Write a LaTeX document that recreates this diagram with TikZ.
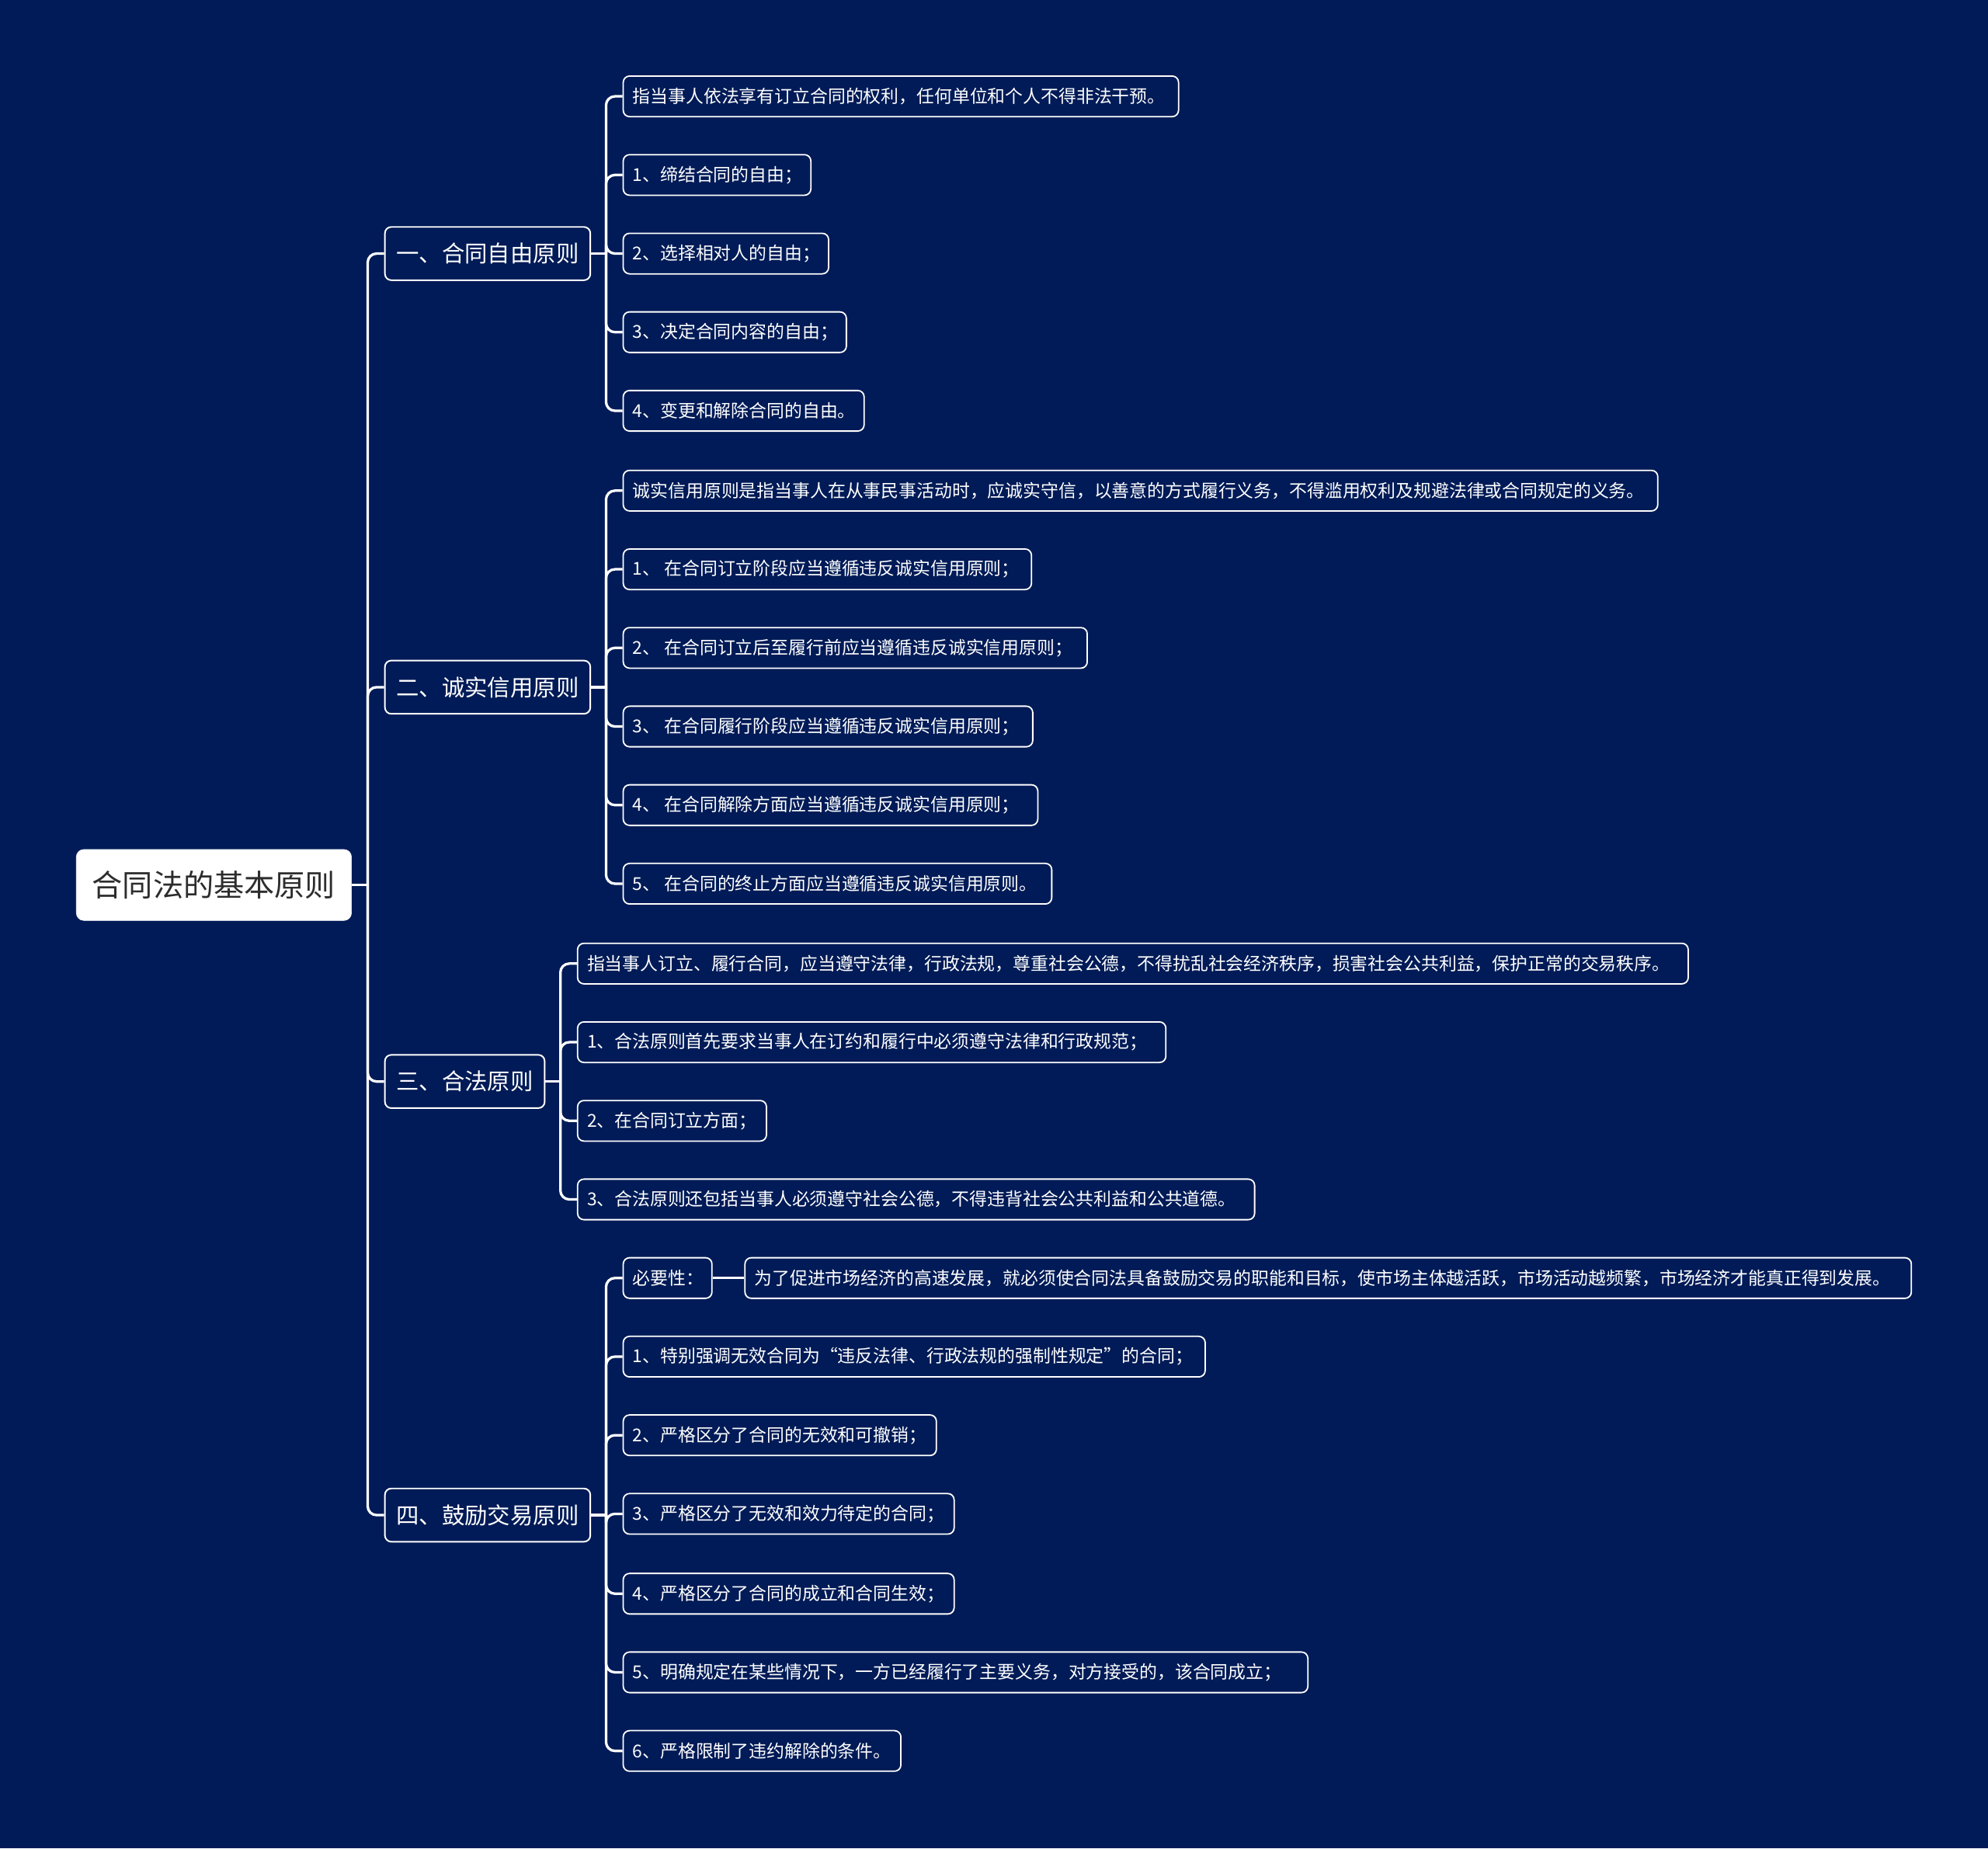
\documentclass[tikz,border=0pt]{standalone}
\usepackage{fontspec}
\setmainfont{Noto Sans CJK SC}
\definecolor{bg}{RGB}{0,27,87}
\definecolor{roottext}{RGB}{45,45,45}
\newcommand{\lbx}[2]{\makebox[\dimexpr #1pt-15pt\relax][l]{#2}}
\begin{document}
\begin{tikzpicture}[x=1pt,y=-1pt,
  rootbox/.style={draw=white, fill=white, rounded corners=6pt, text=roottext,
    font=\fontsize{24}{28}\selectfont, minimum height=56pt, minimum width=217pt, anchor=west, inner xsep=12pt},
  mainbox/.style={draw=white, line width=1.2pt, fill=bg, rounded corners=5pt, text=white,
    font=\fontsize{18}{22}\selectfont, minimum height=42pt, inner xsep=9pt, anchor=west},
  leaf/.style={draw=white, line width=1.1pt, fill=bg, rounded corners=5pt, text=white,
    font=\fontsize{14}{17}\selectfont, minimum height=32pt, inner xsep=7.5pt, anchor=west},
  conn/.style={draw=white, line width=2pt, rounded corners=7pt}]
\useasboundingbox (0,0) rectangle (1568,1458);
\fill[bg] (0,0) rectangle (1568,1458);

% root
\node[rootbox] (root) at (60,698) {合同法的基本原则};

% main nodes
\node[mainbox] (m1) at (303,200) {一、合同自由原则};
\node[mainbox] (m2) at (303,542) {二、诚实信用原则};
\node[mainbox] (m3) at (303,853) {三、合法原则};
\node[mainbox] (m4) at (303,1195) {四、鼓励交易原则};

% group 1
\node[leaf] (a0) at (491,76) {\lbx{438}{指当事人依法享有订立合同的权利，任何单位和个人不得非法干预。}};
\node[leaf] (a1) at (491,138) {\lbx{148}{1、缔结合同的自由；}};
\node[leaf] (a2) at (491,200) {\lbx{162}{2、选择相对人的自由；}};
\node[leaf] (a3) at (491,262) {\lbx{176}{3、决定合同内容的自由；}};
\node[leaf] (a4) at (491,324) {\lbx{190}{4、变更和解除合同的自由。}};

% group 2
\node[leaf] (b0) at (491,387) {\lbx{816}{诚实信用原则是指当事人在从事民事活动时，应诚实守信，以善意的方式履行义务，不得滥用权利及规避法律或合同规定的义务。}};
\node[leaf] (b1) at (491,449) {\lbx{322}{1、 在合同订立阶段应当遵循违反诚实信用原则；}};
\node[leaf] (b2) at (491,511) {\lbx{366}{2、 在合同订立后至履行前应当遵循违反诚实信用原则；}};
\node[leaf] (b3) at (491,573) {\lbx{323}{3、 在合同履行阶段应当遵循违反诚实信用原则；}};
\node[leaf] (b4) at (491,635) {\lbx{327}{4、 在合同解除方面应当遵循违反诚实信用原则；}};
\node[leaf] (b5) at (491,697) {\lbx{338}{5、 在合同的终止方面应当遵循违反诚实信用原则。}};

% group 3
\node[leaf] (c0) at (455,760) {\lbx{876}{指当事人订立、履行合同，应当遵守法律，行政法规，尊重社会公德，不得扰乱社会经济秩序，损害社会公共利益，保护正常的交易秩序。}};
\node[leaf] (c1) at (455,822) {\lbx{464}{1、合法原则首先要求当事人在订约和履行中必须遵守法律和行政规范；}};
\node[leaf] (c2) at (455,884) {\lbx{149}{2、在合同订立方面；}};
\node[leaf] (c3) at (455,946) {\lbx{534}{3、合法原则还包括当事人必须遵守社会公德，不得违背社会公共利益和公共道德。}};

% group 4
\node[leaf] (d0) at (491,1008) {\lbx{70}{必要性：}};
\node[leaf] (d0x) at (587,1008) {\lbx{920}{为了促进市场经济的高速发展，就必须使合同法具备鼓励交易的职能和目标，使市场主体越活跃，市场活动越频繁，市场经济才能真正得到发展。}};
\node[leaf] (d1) at (491,1070) {\lbx{459}{1、特别强调无效合同为“违反法律、行政法规的强制性规定”的合同；}};
\node[leaf] (d2) at (491,1132) {\lbx{247}{2、严格区分了合同的无效和可撤销；}};
\node[leaf] (d3) at (491,1194) {\lbx{261}{3、严格区分了无效和效力待定的合同；}};
\node[leaf] (d4) at (491,1257) {\lbx{261}{4、严格区分了合同的成立和合同生效；}};
\node[leaf] (d5) at (491,1319) {\lbx{540}{5、明确规定在某些情况下，一方已经履行了主要义务，对方接受的，该合同成立；}};
\node[leaf] (d6) at (491,1381) {\lbx{219}{6、严格限制了违约解除的条件。}};

% trunk
\coordinate (t) at (290,698);
\draw[conn] (root.east) -- (t);
\foreach \m in {m1,m2,m3,m4} \draw[conn] (t) |- (\m.west);

% branch buses
\coordinate (j1) at (478,200);
\draw[conn] (m1.east) -- (j1);
\foreach \c in {a0,a1,a2,a3,a4} \draw[conn] (j1) |- (\c.west);

\coordinate (j2) at (478,542);
\draw[conn] (m2.east) -- (j2);
\foreach \c in {b0,b1,b2,b3,b4,b5} \draw[conn] (j2) |- (\c.west);

\coordinate (j3) at (442,853);
\draw[conn] (m3.east) -- (j3);
\foreach \c in {c0,c1,c2,c3} \draw[conn] (j3) |- (\c.west);

\coordinate (j4) at (478,1195);
\draw[conn] (m4.east) -- (j4);
\foreach \c in {d0,d1,d2,d3,d4,d5,d6} \draw[conn] (j4) |- (\c.west);

\draw[conn] (d0.east) -- (d0x.west);
\end{tikzpicture}
\end{document}
